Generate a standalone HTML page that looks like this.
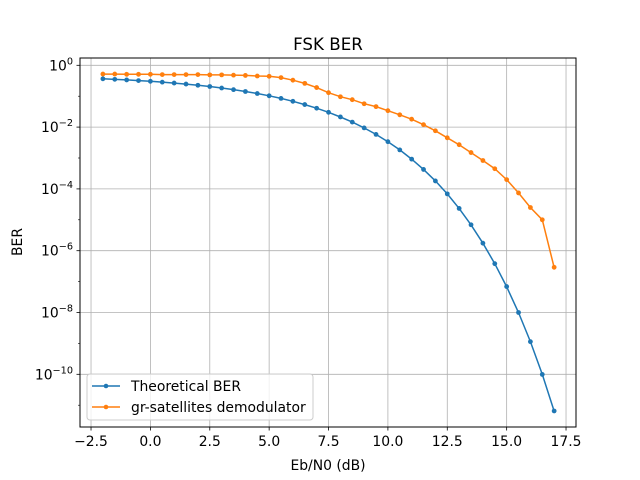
<!DOCTYPE html>
<html><head><meta charset="utf-8"><style>
body{margin:0;background:#fff;}
svg{display:block;font-family:"DejaVu Sans","Liberation Sans",sans-serif;}
</style></head><body>
<svg id="chart" width="640" height="480" xmlns="http://www.w3.org/2000/svg">
<rect width="640" height="480" fill="#fff"/>
<text x="328" y="50" text-anchor="middle" font-size="16.7">FSK BER</text>
<g id="grid"></g>
<g id="series"></g>
<rect x="80" y="58" width="496" height="369" fill="none" stroke="#000" stroke-width="1"/>
<g id="ticks"></g>
<text x="328" y="470" text-anchor="middle" font-size="13.9">Eb/N0 (dB)</text>
<text x="22" y="242" text-anchor="middle" font-size="13.9" transform="rotate(-90 22 242)">BER</text>
<g>
<rect x="87" y="374" width="226" height="46" rx="3" fill="#fff" fill-opacity="0.8" stroke="#ccc"/>
<line x1="92" y1="386" x2="120" y2="386" stroke="#1f77b4" stroke-width="1.5"/>
<circle cx="106" cy="386" r="2.3" fill="#1f77b4"/>
<text x="131" y="391" font-size="13.9">Theoretical BER</text>
<line x1="92" y1="407" x2="120" y2="407" stroke="#ff7f0e" stroke-width="1.5"/>
<circle cx="106" cy="407" r="2.3" fill="#ff7f0e"/>
<text x="131" y="412" font-size="13.9">gr-satellites demodulator</text>
</g>
</svg>
<script>
const ebn0 = [-2,-1.5,-1,-0.5,0,0.5,1,1.5,2,2.5,3,3.5,4,4.5,5,5.5,6,6.5,7,7.5,8,8.5,9,9.5,10,10.5,11,11.5,12,12.5,13,13.5,14,14.5,15,15.5,16,16.5,17];
const theoreticalBer = [0.365,0.351,0.336,0.320,0.303,0.285,0.266,0.247,0.226,0.206,0.184,0.163,0.142,0.122,0.103,0.0849,0.0683,0.0536,0.0408,0.0301,0.0213,0.0145,0.00943,0.0058,0.00337,0.00183,9.2e-4,4.27e-4,1.81e-4,6.9e-5,2.33e-5,6.9e-6,1.75e-6,3.8e-7,6.9e-8,1.0e-8,1.14e-9,9.9e-11,6.5e-12];
const grSatBer = [0.52,0.52,0.51,0.51,0.51,0.50,0.50,0.50,0.50,0.49,0.49,0.48,0.47,0.45,0.44,0.40,0.33,0.26,0.19,0.13,0.096,0.077,0.057,0.046,0.034,0.025,0.018,0.012,0.0076,0.0045,0.0027,0.0015,8.3e-4,4.5e-4,2.0e-4,7.4e-5,2.5e-5,1.0e-5,2.9e-7];
const xTicks = [-2.5,0,2.5,5,7.5,10,12.5,15,17.5];
const xTickLabels = ["\u22122.5","0.0","2.5","5.0","7.5","10.0","12.5","15.0","17.5"];
const yTickExps = [0,-2,-4,-6,-8,-10];

const NS="http://www.w3.org/2000/svg";
function xs(v){return 150.4+v*23.75;}
function ys(v){return 65.3-Math.log10(v)*30.9;}
function mk(tag,attrs,parent){const e=document.createElementNS(NS,tag);for(const k in attrs)e.setAttribute(k,attrs[k]);parent.appendChild(e);return e;}
const grid=document.getElementById('grid'),ticks=document.getElementById('ticks'),series=document.getElementById('series');
xTicks.forEach((t,i)=>{
  const x=xs(t);
  const g=mk('line',{x1:x,x2:x,y1:58,y2:427,stroke:'#b0b0b0','stroke-width':0.8},grid);
  
  
  mk('line',{x1:x,x2:x,y1:427,y2:430.5,stroke:'#000','stroke-width':0.8},ticks);
  const tx=mk('text',{x:x,y:446,'text-anchor':'middle','font-size':13.9},ticks);
  tx.textContent=xTickLabels[i];
  
  
});
yTickExps.forEach(e=>{
  const y=ys(Math.pow(10,e));
  const g=mk('line',{x1:80,x2:576,y1:y,y2:y,stroke:'#b0b0b0','stroke-width':0.8},grid);
  
  
  mk('line',{x1:76.5,x2:80,y1:y,y2:y,stroke:'#000','stroke-width':0.8},ticks);
  const tx=mk('text',{x:73,y:y+5,'text-anchor':'end','font-size':13.9},ticks);
  
  
  const a=mk('tspan',{},tx);a.textContent='10';
  const b=mk('tspan',{dy:-6,'font-size':9.7},tx);b.textContent=(e<0?'\u2212'+(-e):''+e);
});
for(let e=-11;e<=0;e++){ if(e%2!==0){const y=ys(Math.pow(10,e)); if(y>58&&y<427) mk('line',{x1:78,x2:80,y1:y,y2:y,stroke:'#000','stroke-width':0.6},ticks);} }
function drawSeries(vals,color,name){
  const pts=vals.map((v,i)=>xs(ebn0[i]).toFixed(1)+','+ys(v).toFixed(1)).join(' ');
  const pl=mk('polyline',{points:pts,fill:'none',stroke:color,'stroke-width':1.5},series);
  
  
  vals.forEach((v,i)=>{
    const c=mk('circle',{cx:xs(ebn0[i]),cy:ys(v),r:2.4,fill:color},series);
    
    
  });
}
drawSeries(theoreticalBer,'#1f77b4','theoretical-ber');
drawSeries(grSatBer,'#ff7f0e','gr-satellites-ber');
</script>
</body></html>
